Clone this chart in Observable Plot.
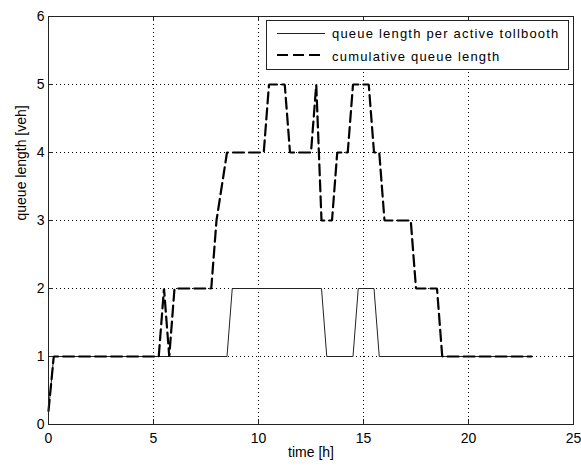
<!DOCTYPE html>
<html><head><meta charset="utf-8">
<script src="https://cdn.jsdelivr.net/npm/d3@7"></script>
<script src="https://cdn.jsdelivr.net/npm/@observablehq/plot@0.6"></script>
<style>body{margin:0;background:#fff}#chart svg{display:block}</style>
</head><body><div id="chart"></div>
<script>
const xTicks = [0, 5, 10, 15, 20, 25];
const yTicks = [0, 1, 2, 3, 4, 5, 6];
const seriesNames = ["queue length per active tollbooth", "cumulative queue length"];

const perBoothTime  = [0, 0.25, 8.5, 8.75, 13.0, 13.25, 14.5, 14.75, 15.5, 15.75, 23];
const perBoothQueue = [0.2, 1, 1, 2, 2, 1, 1, 2, 2, 1, 1];

const cumulativeTime  = [0, 0.25, 5.25, 5.5, 5.75, 6.0, 7.75, 8.0, 8.5, 10.25, 10.5, 11.25, 11.5, 12.5, 12.75, 13.0, 13.5, 13.75, 14.25, 14.5, 15.25, 15.5, 15.75, 16.0, 17.25, 17.5, 18.5, 18.75, 23];
const cumulativeQueue = [0.2, 1, 1, 2, 1, 2, 2, 3, 4, 4, 5, 5, 4, 4, 5, 3, 3, 4, 4, 5, 5, 4, 4, 3, 3, 2, 2, 1, 1];

const perBooth = perBoothTime.map((t, i) => ({t, q: perBoothQueue[i]}));
const cumulative = cumulativeTime.map((t, i) => ({t, q: cumulativeQueue[i]}));

const W = 581, H = 466, mL = 48, mR = 8, mT = 16, mB = 42;
const plotH = H - mT - mB, plotW = W - mL - mR;
const xMin = 0, xMax = 25, yMin = 0, yMax = 6;
const tickPx = 5;
const tickLenY = (yMax - yMin) * tickPx / plotH;
const tickLenX = (xMax - xMin) * tickPx / plotW;
const font = "'Liberation Sans', Arial, Helvetica, sans-serif";

const chart = Plot.plot({
  width: W, height: H,
  marginLeft: mL, marginRight: mR, marginTop: mT, marginBottom: mB,
  style: {fontFamily: font, fontSize: "14px", color: "#000", background: "#fff"},
  x: {domain: [xMin, xMax], ticks: xTicks},
  y: {domain: [yMin, yMax], ticks: yTicks},
  marks: [
    Plot.ruleX(xTicks, {x: d => d, stroke: "#000", strokeDasharray: "1,3", strokeWidth: 1}),
    Plot.ruleY(yTicks, {y: d => d, stroke: "#000", strokeDasharray: "1,3", strokeWidth: 1}),
    Plot.line(perBooth, {x: "t", y: "q", stroke: "#222", strokeWidth: 1}),
    Plot.line(cumulative, {x: "t", y: "q", stroke: "#000", strokeWidth: 2.2, strokeDasharray: "11,5", strokeLinejoin: "miter"}),
    Plot.frame({stroke: "#222", strokeWidth: 1}),
    Plot.ruleX(xTicks, {x: d => d, y1: yMin, y2: yMin + tickLenY, stroke: "#222"}),
    Plot.ruleX(xTicks, {x: d => d, y1: yMax - tickLenY, y2: yMax, stroke: "#222"}),
    Plot.ruleY(yTicks, {y: d => d, x1: xMin, x2: xMin + tickLenX, stroke: "#222"}),
    Plot.ruleY(yTicks, {y: d => d, x1: xMax - tickLenX, x2: xMax, stroke: "#222"}),
    Plot.axisX(xTicks, {tickSize: 0, tickPadding: 9, label: null, fontSize: 14, tickFormat: d3.format("d")}),
    Plot.axisY(yTicks, {tickSize: 0, tickPadding: 4, label: null, fontSize: 14, tickFormat: d3.format("d")}),
    Plot.text(["time [h]"], {frameAnchor: "bottom", dy: 32, fontSize: 14, letterSpacing: 0.5}),
    Plot.text(["queue length [veh]"], {frameAnchor: "left", rotate: -90, dx: -27, fontSize: 14, letterSpacing: 0.5})
  ]
});

const svg = d3.select(chart);
const lg = svg.append("g").attr("font-family", font).attr("font-size", 13).attr("text-anchor", "start");
lg.append("rect").attr("x", 266.5).attr("y", 20.5).attr("width", 302).attr("height", 49)
  .attr("fill", "#fff").attr("stroke", "#222").attr("stroke-width", 1);
lg.append("line").attr("x1", 277).attr("x2", 325).attr("y1", 33.5).attr("y2", 33.5)
  .attr("stroke", "#222").attr("stroke-width", 1);
lg.append("line").attr("x1", 277).attr("x2", 325).attr("y1", 55).attr("y2", 55)
  .attr("stroke", "#000").attr("stroke-width", 2.2).attr("stroke-dasharray", "11,5");
lg.append("text").attr("x", 332).attr("y", 33.5).attr("dy", "0.35em").attr("letter-spacing", 1.2)
  .text(seriesNames[0]);
lg.append("text").attr("x", 332).attr("y", 56).attr("dy", "0.35em").attr("letter-spacing", 1.2)
  .text(seriesNames[1]);

document.getElementById("chart").appendChild(chart);
</script>
</body></html>
